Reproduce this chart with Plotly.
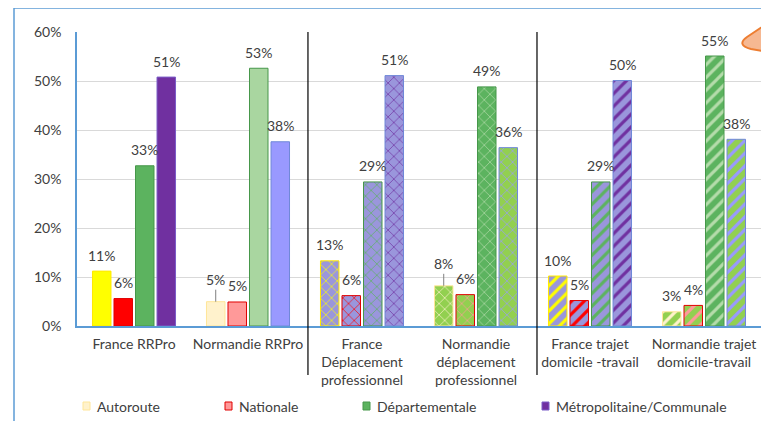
import plotly.graph_objects as go

# ---------------- data ----------------
categories = [
    "France RRPro",
    "Normandie RRPro",
    "France<br>Déplacement<br>professionnel",
    "Normandie<br>déplacement<br>professionnel",
    "France trajet<br>domicile -travail",
    "Normandie trajet<br>domicile-travail",
]
series_names = ["Autoroute", "Nationale", "Départementale", "Métropolitaine/Communale"]
autoroute = [0.112, 0.0496, 0.133, 0.082, 0.102, 0.029]
nationale = [0.056, 0.049, 0.062, 0.064, 0.052, 0.042]
departementale = [0.327, 0.526, 0.294, 0.488, 0.294, 0.551]
metropolitaine = [0.508, 0.376, 0.511, 0.364, 0.501, 0.381]
y_ticks = [0, 0.1, 0.2, 0.3, 0.4, 0.5, 0.6]
y_ticklabels = ["0%", "10%", "20%", "30%", "40%", "50%", "60%"]
leader_labels = [(0, 1), (0, 3)]  # (series, category) labels drawn with a leader line

series_values = [autoroute, nationale, departementale, metropolitaine]

# ---------------- styles ----------------
LAV = "#9a96dc"
LGR = "#92d050"
GRN = "#5cb35f"
group_shapes = ["", "", "x", "x", "/", "/"]
fill_colors = [
    ["#ffff00", "#fff2cc", LAV, LGR, LAV, LGR],
    ["#ff0000", "#ff9999", LAV, LGR, LAV, LGR],
    [GRN, "#a9d6a0", LAV, GRN, LAV, GRN],
    ["#7030a0", "#9999ff", LAV, LGR, LAV, LGR],
]
fg_colors = [
    ["#ffff00", "#fff2cc", "#ffff00", "#fff2cc", "#ffff00", "#fff2cc"],
    ["#ff0000", "#ff9999", "#ff0000", "#ff9999", "#ff0000", "#ff9999"],
    [GRN, "#a9d6a0", GRN, "#b5dcab", GRN, "#b5dcab"],
    ["#7030a0", "#9999ff", "#7030a0", "#9999ff", "#7030a0", "#9999ff"],
]
line_colors = [
    ["#ffe800", "#ffe699", "#ffe800", "#ffe699", "#ffe800", "#ffe699"],
    ["#e00000"] * 6,
    ["#46974a"] * 6,
    ["#7a5cc8", "#6f88d8", "#6f88d8", "#6f88d8", "#6f88d8", "#6f88d8"],
]
pattern_sizes = [8, 8, 8, 8, 9, 9]
pattern_solidity = [0.3, 0.3, 0.16, 0.16, 0.36, 0.36]

TXT = "#404040"
FONT = "Lato"
OFF = 8  # page body margin
W, H = 769 - OFF, 421 - OFF
ML, MR, MT, MB = 77 - OFF, 8, 32 - OFF, 95
PW, PH = W - ML - MR, H - MT - MB


def px(x):
    """reference picture x -> paper"""
    return (x - OFF - ML) / PW


def py(y):
    """reference picture y -> paper"""
    return (H - MB - (y - OFF)) / PH


fig = go.Figure()
for i, name in enumerate(series_names):
    for g, cat in enumerate(categories):
        fig.add_trace(go.Bar(
            name=name,
            x=[cat],
            y=[series_values[i][g]],
            offsetgroup=str(i),
            marker=dict(
                color=fill_colors[i][g],
                line=dict(color=line_colors[i][g], width=1),
                pattern=dict(
                    shape=group_shapes[g],
                    bgcolor=fill_colors[i][g],
                    fgcolor=fg_colors[i][g],
                    size=pattern_sizes[g],
                    solidity=pattern_solidity[g],
                    fillmode="replace",
                ),
            ),
            showlegend=False,
            hoverinfo="skip",
        ))

bargap = 0.245
slot = (1 - bargap) / len(series_names)

annotations = []
for i, vals in enumerate(series_values):
    for g, v in enumerate(vals):
        xpos = g + (i - (len(series_names) - 1) / 2) * slot
        label = f"{round(v * 100)}%"
        if (i, g) in leader_labels:
            annotations.append(dict(
                x=xpos, y=v, xref="x", yref="y", text=label,
                showarrow=True, arrowhead=0, arrowwidth=1, arrowcolor="#7f7f7f",
                ax=0, ay=-22, standoff=0,
                font=dict(family=FONT, size=14, color=TXT),
            ))
        else:
            annotations.append(dict(
                x=xpos, y=v, xref="x", yref="y", text=label,
                showarrow=False, yshift=16,
                font=dict(family=FONT, size=14, color=TXT),
            ))

# manual legend
legend_items = [
    ("Autoroute", 83, "#fff2cc", "#ffe699"),
    ("Nationale", 225, "#ff9999", "#e00000"),
    ("Départementale", 363, GRN, "#46974a"),
    ("Métropolitaine/Communale", 542, "#7030a0", "#7a5cc8"),
]
shapes = []
for name, lx, fc, lc in legend_items:
    shapes.append(dict(type="rect", xref="paper", yref="paper",
                       x0=px(lx), x1=px(lx + 7), y0=py(410), y1=py(402),
                       fillcolor=fc, line=dict(color=lc, width=1)))
    annotations.append(dict(x=px(lx + 12), y=py(406), xref="paper", yref="paper",
                            text=name, showarrow=False, xanchor="left", yanchor="middle",
                            font=dict(family=FONT, size=14, color=TXT)))

# separators between chart sections
for sx in [1.526, 3.535]:
    shapes.append(dict(type="line", xref="x", yref="paper", x0=sx, x1=sx,
                       y0=1, y1=py(375), line=dict(color="#000000", width=1.2)))

# outer frame (blue) and orange callout fragment
shapes.append(dict(type="line", xref="paper", yref="paper", x0=px(14), x1=px(14),
                   y0=py(8), y1=py(430), line=dict(color="#5b9bd5", width=1.5)))
shapes.append(dict(type="line", xref="paper", yref="paper", x0=px(14), x1=px(775),
                   y0=py(8), y1=py(8), line=dict(color="#5b9bd5", width=1.5)))
path = (f"M {px(775)},{py(-4)} L {px(762)},{py(-4)} "
        f"Q {px(769)},{py(12)} {px(765)},{py(25)} "
        f"L {px(747)},{py(37)} Q {px(736)},{py(45)} {px(751)},{py(49)} "
        f"L {px(775)},{py(53)} Z")
shapes.append(dict(type="path", xref="paper", yref="paper", path=path,
                   fillcolor="#f6b892", line=dict(color="#ed7d31", width=2)))

fig.update_layout(
    width=W, height=H,
    margin=dict(l=ML, r=MR, t=MT, b=MB),
    paper_bgcolor="white", plot_bgcolor="white",
    barmode="group", bargap=bargap, bargroupgap=0.14,
    font=dict(family=FONT, size=14, color=TXT),
    annotations=annotations,
    shapes=shapes,
    showlegend=False,
)
fig.update_xaxes(
    type="category", categoryorder="array", categoryarray=categories,
    showline=True, linecolor="#5b9bd5", linewidth=1.5,
    showgrid=False, ticks="", ticklabelstandoff=4,
    tickfont=dict(family=FONT, size=14, color=TXT),
    range=[-0.5, 5.5],
)
fig.update_yaxes(
    range=[0, 0.6], tickvals=y_ticks, ticktext=y_ticklabels,
    showline=True, linecolor="#5b9bd5", linewidth=1.5,
    showgrid=True, gridcolor="#d9d9d9", gridwidth=1,
    zeroline=False, ticks="", ticklabelstandoff=11,
    tickfont=dict(family=FONT, size=14, color=TXT),
)

fig.write_html("out.html")
